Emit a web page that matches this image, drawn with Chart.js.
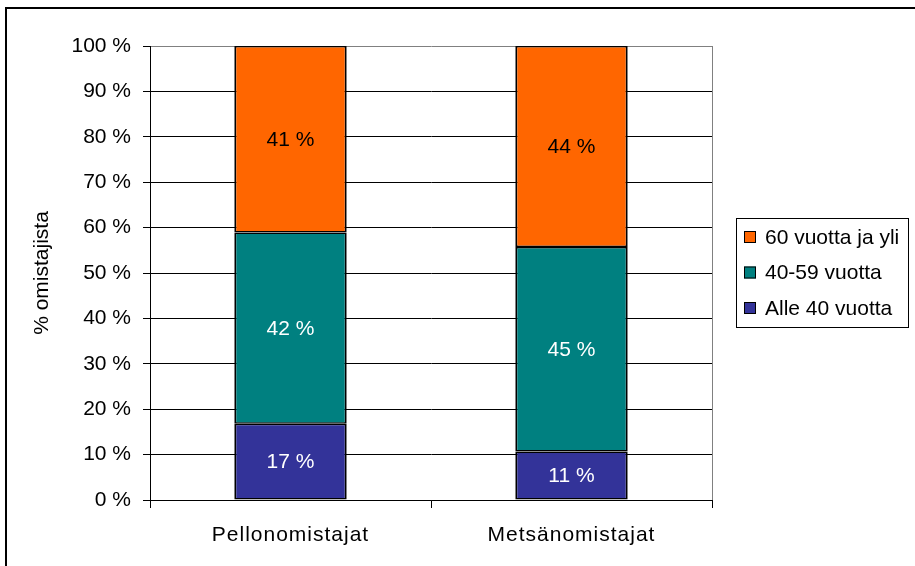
<!DOCTYPE html>
<html>
<head>
<meta charset="utf-8">
<script src="https://cdn.jsdelivr.net/npm/chart.js@4"></script>
<style>
  html, body { margin: 0; padding: 0; background: #fff; }
  #wrap { width: 915px; height: 566px; }
</style>
</head>
<body>
<div id="wrap"><canvas id="chart" width="915" height="566"></canvas></div>
<script>
// data
const categories = ['Pellonomistajat', 'Metsänomistajat'];
const under40 = [16.8, 10.7];
const age40to59 = [42.1, 45.0];
const over60 = [41.1, 44.3];
const seriesNames = ['Alle 40 vuotta', '40-59 vuotta', '60 vuotta ja yli'];
const yTicks = [0, 10, 20, 30, 40, 50, 60, 70, 80, 90, 100];

const FONT = 'Liberation Sans, Arial, sans-serif';
const FS = 21;

// outer frame (top + left line like the original export)
const framePlugin = {
    id: 'frame',
    beforeDraw(chart) {
        const ctx = chart.ctx;
        ctx.save();
        ctx.fillStyle = '#fff';
        ctx.fillRect(0, 0, chart.width, chart.height);
        ctx.strokeStyle = '#000';
        ctx.lineWidth = 2;
        ctx.beginPath();
        ctx.moveTo(6, chart.height);
        ctx.lineTo(6, 8);
        ctx.lineTo(chart.width, 8);
        ctx.stroke();
        ctx.restore();
    },
    afterDatasetsDraw(chart) {
        // gray right edge of plot area
        const a = chart.chartArea;
        const ctx = chart.ctx;
        ctx.save();
        ctx.strokeStyle = '#808080';
        ctx.lineWidth = 1;
        ctx.beginPath();
        ctx.moveTo(Math.round(a.right) + 0.5, a.top);
        ctx.lineTo(Math.round(a.right) + 0.5, a.bottom);
        ctx.stroke();
        ctx.restore();
    }
};

// the category labels in the original are a bit spaced out
const spacedXLabels = {
    id: 'spacedXLabels',
    afterLayout(chart) {
        const sx = chart.scales.x;
        if (sx._spaced) return;
        const orig = sx.drawLabels.bind(sx);
        sx.drawLabels = function (area) {
            const ctx = this.ctx;
            const prev = ctx.letterSpacing;
            ctx.letterSpacing = '1px';
            orig(area);
            ctx.letterSpacing = prev || '0px';
        };
        sx._spaced = true;
    }
};

// percentage labels inside the segments
const valueLabels = {
    id: 'valueLabels',
    afterDatasetsDraw(chart) {
        const ctx = chart.ctx;
        ctx.save();
        ctx.font = FS + 'px ' + FONT;
        ctx.textAlign = 'center';
        ctx.textBaseline = 'middle';
        chart.data.datasets.forEach((ds, i) => {
            const meta = chart.getDatasetMeta(i);
            meta.data.forEach((bar, j) => {
                const mid = (bar.y + bar.base) / 2;
                ctx.fillStyle = ds.labelColor;
                ctx.fillText(Math.round(ds.data[j]) + ' %', bar.x, mid + 1);
            });
        });
        ctx.restore();
    }
};

// boxed legend on the right, top series first
const boxLegend = {
    id: 'boxLegend',
    afterDraw(chart) {
        const ctx = chart.ctx;
        const x0 = 736, y0 = 218, w = 172, h = 109;
        ctx.save();
        ctx.strokeStyle = '#000';
        ctx.lineWidth = 1;
        ctx.strokeRect(x0 + 0.5, y0 + 0.5, w, h);
        ctx.font = FS + 'px ' + FONT;
        ctx.textBaseline = 'middle';
        const items = chart.data.datasets.slice().reverse();
        items.forEach((ds, i) => {
            const cy = y0 + 19 + i * 35.5;
            ctx.fillStyle = ds.backgroundColor;
            ctx.fillRect(x0 + 8, cy - 6, 12, 12);
            ctx.strokeRect(x0 + 8.5, cy - 5.5, 11, 11);
            ctx.fillStyle = '#000';
            ctx.fillText(ds.label, x0 + 29, cy + 1);
        });
        ctx.restore();
    }
};

new Chart(document.getElementById('chart'), {
    type: 'bar',
    data: {
        labels: categories,
        datasets: [
            { label: seriesNames[0], data: under40, backgroundColor: '#333399', labelColor: '#fff' },
            { label: seriesNames[1], data: age40to59, backgroundColor: '#008080', labelColor: '#fff' },
            { label: seriesNames[2], data: over60, backgroundColor: '#FF6600', labelColor: '#000' }
        ].map(d => Object.assign(d, {
            borderColor: '#000',
            borderWidth: { left: 2, right: 2, top: 1.5, bottom: 1.5 },
            borderSkipped: false,
            categoryPercentage: 1,
            barPercentage: 0.4
        }))
    },
    options: {
        responsive: false,
        animation: false,
        layout: { padding: { top: 46, right: 203, left: 0, bottom: 0 } },
        plugins: {
            legend: { display: false },
            tooltip: { enabled: false }
        },
        scales: {
            x: {
                stacked: true,
                offset: true,
                grid: {
                    offset: true,
                    drawOnChartArea: false,
                    color: '#000',
                    tickLength: 8
                },
                border: { color: '#000', width: 1 },
                ticks: { color: '#000', font: { family: FONT, size: FS }, padding: 15, maxRotation: 0 },
                afterFit: s => { s.height = 66; }
            },
            y: {
                stacked: true,
                min: 0,
                max: 100,
                afterBuildTicks: s => { s.ticks = yTicks.map(v => ({ value: v })); },
                grid: {
                    color: c => c.tick && c.tick.value === 100 ? '#808080' : '#000',
                    tickColor: '#000',
                    tickLength: 7
                },
                border: { color: '#000', width: 1 },
                ticks: {
                    color: '#000',
                    font: { family: FONT, size: FS },
                    padding: 12,
                    callback: v => v + ' %'
                },
                title: {
                    display: true,
                    text: '% omistajista',
                    color: '#000',
                    font: { family: FONT, size: FS },
                    padding: { top: 30, bottom: 0 }
                },
                afterFit: s => { s.width = 150; }
            }
        }
    },
    plugins: [framePlugin, spacedXLabels, valueLabels, boxLegend]
});
</script>
</body>
</html>
